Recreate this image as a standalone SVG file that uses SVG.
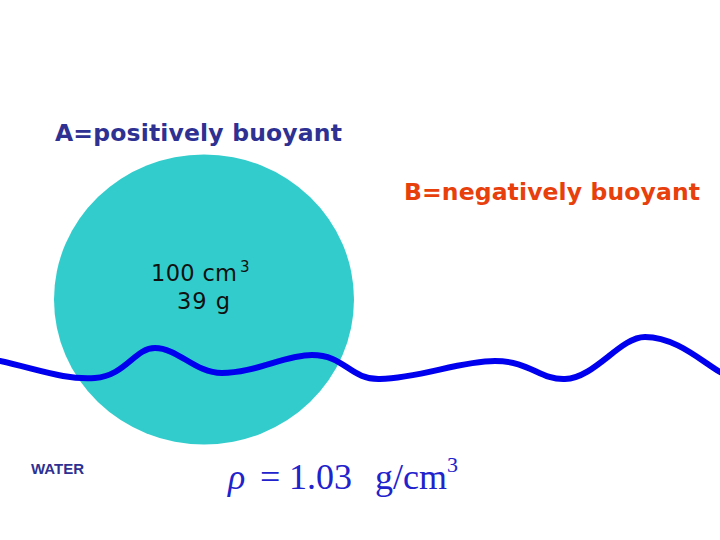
<svg xmlns="http://www.w3.org/2000/svg" width="720" height="540" viewBox="0 0 720 540">
<style>
.ttl{font-family:"DejaVu Sans",Verdana,sans-serif;font-weight:bold;font-size:23.5px}
.lbl{font-family:"DejaVu Sans",Verdana,sans-serif;font-size:22.5px;fill:#111}
.f{font-family:"Liberation Serif","Times New Roman",serif;font-size:36px;fill:#2222cc}
</style>
<rect width="720" height="540" fill="#fff"/>
<g id="title-a"><text class="ttl" x="55" y="141" fill="#2e3192" textLength="287">A=positively buoyant</text></g>
<g id="title-b"><text class="ttl" x="404" y="200" fill="#e8400c" textLength="296">B=negatively buoyant</text></g>
<g id="ball">
<ellipse cx="204" cy="299.5" rx="150" ry="145" fill="#33cccc"/>
<text class="lbl" x="151" y="281"><tspan textLength="86">100 cm</tspan><tspan x="240" dy="-9" font-size="15">3</tspan></text>
<text class="lbl" x="177" y="309" textLength="53">39 g</text>
</g>
<g id="connectors">
<path d="M0,361 C40,370 65,380 95,378 C125,376 135,348 155,348 C178,348 195,373 222,373 C255,373 285,355 312,355 C345,355 350,380 380,379 C420,378 460,361 495,361 C530,361 540,380 565,379 C595,378 620,337 645,337 C675,337 700,360 720,372" fill="none" stroke="#0000ee" stroke-width="6" stroke-linecap="round"/>
</g>
<g id="water">
<text x="31" y="474" font-family="Liberation Sans,Arial,sans-serif" font-weight="bold" font-size="15" fill="#2e3192">WATER</text>
</g>
<g id="formula">
<text class="f" x="228" y="489"><tspan font-style="italic">ρ</tspan><tspan x="260">=</tspan><tspan x="289">1.03</tspan><tspan x="375">g/cm</tspan><tspan font-size="22" dy="-17">3</tspan></text>
</g>
</svg>
